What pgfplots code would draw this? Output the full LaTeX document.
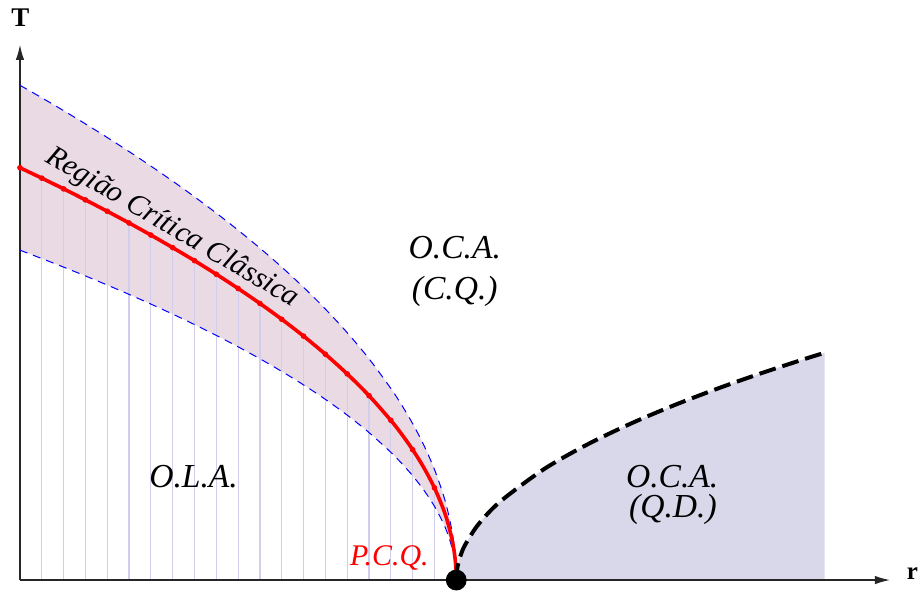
\documentclass[border=0pt]{standalone}
\usepackage{pgfplots}
\pgfplotsset{compat=1.18}
\usepackage{pgfplotstable}
\usepackage{fontspec}
\setmainfont{Liberation Serif}
\usetikzlibrary{arrows.meta}

\definecolor{pinkc}{RGB}{233,218,228}
\definecolor{lavc}{RGB}{216,216,234}
\definecolor{combc}{RGB}{208,206,236}

% r, T (critical line), upper and lower bounds of the critical region
\pgfplotstableread{
r      red      up       lo
0      1.0      1.2      0.8
0.05   0.97468  1.16962  0.77974
0.10   0.94868  1.13842  0.75895
0.15   0.92195  1.10634  0.73756
0.20   0.89443  1.07331  0.71554
0.25   0.86603  1.03923  0.69282
0.30   0.83666  1.00399  0.66933
0.35   0.80623  0.96748  0.64498
0.40   0.77460  0.92952  0.61968
0.45   0.74162  0.88994  0.59330
0.50   0.70711  0.84853  0.56569
0.55   0.67082  0.80498  0.53666
0.60   0.63246  0.75895  0.50597
0.65   0.59161  0.70993  0.47329
0.70   0.54772  0.65727  0.43818
0.75   0.5      0.6      0.4
0.80   0.44721  0.53666  0.35777
0.85   0.38730  0.46476  0.30984
0.875  0.35355  0.42426  0.28284
0.90   0.31623  0.37947  0.25298
0.925  0.27386  0.32863  0.21909
0.95   0.22361  0.26833  0.17889
0.97   0.17321  0.20785  0.13856
0.98   0.14142  0.16971  0.11314
0.99   0.1      0.12     0.08
0.995  0.07071  0.08485  0.05657
0.998  0.04472  0.05367  0.03578
0.9995 0.02236  0.02683  0.01789
1      0        0        0
}\dense

% sampled points of the critical line
\pgfplotstableread{
r      red
0      1.0
0.05   0.97468
0.10   0.94868
0.15   0.92195
0.20   0.89443
0.25   0.86603
0.30   0.83666
0.35   0.80623
0.40   0.77460
0.45   0.74162
0.50   0.70711
0.55   0.67082
0.60   0.63246
0.65   0.59161
0.70   0.54772
0.75   0.5
0.80   0.44721
0.85   0.38730
0.90   0.31623
0.95   0.22361
}\samples

% quantum-disordered boundary
\pgfplotstableread{
r       T
1       0
1.0005  0.01342
1.002   0.02683
1.005   0.04243
1.01    0.06
1.02    0.08485
1.05    0.13416
1.1     0.18974
1.2     0.26833
1.3     0.32863
1.4     0.37947
1.5     0.42426
1.6     0.46476
1.7     0.50200
1.8     0.53666
1.8444  0.55121
}\qd

\begin{document}
\begin{tikzpicture}
\begin{axis}[
  x=218.5pt, y=206.5pt,
  xmin=0, xmax=1.994, ymin=0, ymax=1.298,
  hide axis, clip=false,
]
\path (axis cs:-0.04577,-0.02663) rectangle (axis cs:2.0549,1.40678);

% shaded regions
\addplot[draw=none, fill=pinkc, smooth] table[x=r, y=up] {\dense} \closedcycle;
\addplot[draw=none, fill=white, smooth] table[x=r, y=lo] {\dense} \closedcycle;
\addplot[draw=none, fill=lavc, smooth] table[x=r, y=T] {\qd} \closedcycle;

% vertical comb lines
\addplot[ycomb, combc, line width=0.6pt, mark=none] table[x=r, y=red] {\samples};

% axes
\draw[line width=0.6pt, black!85, -{Latex[length=7.5pt,width=4.2pt]}] (axis cs:0,0) -- (axis cs:1.994,0);
\draw[line width=0.6pt, black!85, -{Latex[length=7.5pt,width=4.2pt]}] (axis cs:0,0) -- (axis cs:0,1.298);

% bounds of the classical critical region
\addplot[blue, line width=0.5pt, dash pattern=on 4pt off 3pt, smooth] table[x=r, y=up] {\dense};
\addplot[blue, line width=0.5pt, dash pattern=on 4pt off 3pt, smooth] table[x=r, y=lo] {\dense};

% critical line
\addplot[red, line width=1.8pt, smooth] table[x=r, y=red] {\dense};
\addplot[red, only marks, mark=*, mark size=1.2pt] table[x=r, y=red] {\samples};

% quantum-disordered crossover
\addplot[black, line width=2pt, dash pattern=on 8.5pt off 3.5pt, smooth] table[x=r, y=T] {\qd};

% quantum critical point
\addplot[black, only marks, mark=*, mark size=5pt] coordinates {(1,0)};

% labels
\node[anchor=base, rotate=-30.5, font=\fontsize{15}{18}\selectfont\itshape] at (axis cs:0.341,0.838) {Região Crítica Clâssica};
\node[anchor=base, font=\fontsize{16.8}{20}\selectfont\itshape] at (axis cs:0.9966,0.7797) {O.C.A.};
\node[anchor=base, font=\fontsize{16.8}{20}\selectfont\itshape] at (axis cs:0.9966,0.6804) {(C.Q.)};
\node[anchor=base, font=\fontsize{16.8}{20}\selectfont\itshape] at (axis cs:0.398,0.2252) {O.L.A.};
\node[anchor=base, font=\fontsize{16.8}{20}\selectfont\itshape] at (axis cs:1.495,0.2245) {O.C.A.};
\node[anchor=base, font=\fontsize{16.8}{20}\selectfont\itshape] at (axis cs:1.4966,0.1518) {(Q.D.)};
\node[anchor=base, red, font=\fontsize{15}{18}\selectfont\itshape] at (axis cs:0.8467,0.0363) {P.C.Q.};
\node[anchor=base, font=\fontsize{13.5}{16}\selectfont\bfseries] at (axis cs:0.0007,1.3421) {T};
\node[anchor=base west, inner sep=0pt, font=\fontsize{12.5}{15}\selectfont\bfseries] at (axis cs:2.032,0.0024) {r};
\end{axis}
\end{tikzpicture}
\end{document}
